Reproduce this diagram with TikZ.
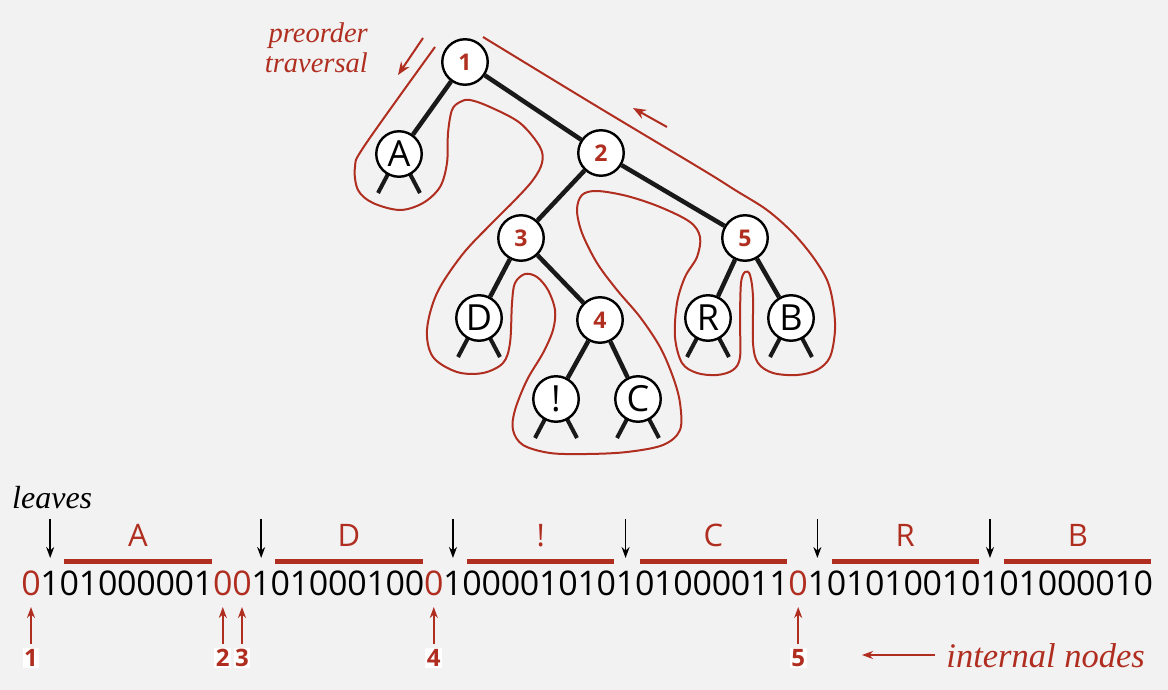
\documentclass[tikz,border=0pt]{standalone}
\usepackage{fontspec}
\setmainfont{Liberation Serif}
\newfontfamily\sansf{Open Sans}
\usetikzlibrary{arrows.meta}
\definecolor{bookred}{RGB}{176,46,32}
\definecolor{bggray}{RGB}{242,242,242}
\pgfdeclarelayer{bgfill}
\pgfdeclarelayer{bgedge}
\pgfsetlayers{bgfill,bgedge,main}
\tikzset{
  tnode/.style={circle, draw=black, line width=2.4pt, fill=white, minimum size=45.5pt, inner sep=0pt},
  leaflbl/.style={font=\sansf\fontsize{36}{36}\selectfont},
  intlbl/.style={text=bookred, font=\sansf\bfseries\fontsize{23}{23}\selectfont},
  treeedge/.style={line width=4.5pt, draw=black!90},
  stub/.style={line width=4pt, draw=black!90},
  trav/.style={draw=bookred, line width=2pt},
  travarrow/.style={draw=bookred, line width=2pt, -{Stealth[length=13pt,width=10pt]}},
  bit/.style={font=\sansf\fontsize{34}{34}\selectfont, anchor=base, inner sep=0pt},
  barlbl/.style={text=bookred, font=\sansf\fontsize{31}{31}\selectfont, anchor=base, inner sep=0pt},
  bitbar/.style={draw=bookred, line width=4.5pt},
  darr/.style={draw=black, line width=1.7pt, -{Stealth[length=11pt,width=8pt]}},
  uarr/.style={draw=bookred, line width=2pt, -{Stealth[length=11pt,width=8pt]}},
  numlbl/.style={text=bookred, fill=white, font=\sansf\bfseries\fontsize{24}{24}\selectfont, inner sep=1.5pt},
  itext/.style={font=\fontsize{28.5}{30}\selectfont\itshape, inner sep=0pt},
}
\begin{document}
\begin{tikzpicture}[x=1pt,y=-1pt]
\begin{pgfonlayer}{bgfill}
\fill[bggray] (0,0) rectangle (1168,690);
\end{pgfonlayer}
\useasboundingbox (0,0) rectangle (1168,690);

% ---------- tree ----------
\node[tnode, intlbl] (n1) at (465,62) {1};
\node[tnode, leaflbl] (A) at (399,154) {A};
\node[tnode, intlbl] (n2) at (601,153) {2};
\node[tnode, intlbl] (n3) at (521,238) {3};
\node[tnode, intlbl] (n5) at (745,238) {5};
\node[tnode, leaflbl] (D) at (479,318) {D};
\node[tnode, intlbl] (n4) at (600,320) {4};
\node[tnode, leaflbl] (R) at (708,318) {R};
\node[tnode, leaflbl] (B) at (791,318) {B};
\node[tnode, leaflbl] (EX) at (556,399) {!};
\node[tnode, leaflbl] (C) at (638,399) {C};

\begin{pgfonlayer}{bgedge}
\draw[treeedge] (n1) -- (A);
\draw[treeedge] (n1) -- (n2);
\draw[treeedge] (n2) -- (n3);
\draw[treeedge] (n2) -- (n5);
\draw[treeedge] (n3) -- (D);
\draw[treeedge] (n3) -- (n4);
\draw[treeedge] (n4) -- (EX);
\draw[treeedge] (n4) -- (C);
\draw[treeedge] (n5) -- (R);
\draw[treeedge] (n5) -- (B);
\foreach \L in {A,D,EX,C,R,B}{
  \draw[stub] ([shift={(-11,20)}]\L.center) -- ([shift={(-21,39)}]\L.center);
  \draw[stub] ([shift={(11,20)}]\L.center) -- ([shift={(21,39)}]\L.center);
}
\end{pgfonlayer}

% ---------- traversal curve ----------
\draw[trav] plot[smooth, tension=0.55] coordinates {
 (435,47) (365,145) (355,167) (358,190) (373,203) (400,210) (423,203) (440,187)
 (447,163) (448,133) (452,110) (460,102) (470,100) (490,107) (520,123) (540,147)
 (542,163) (533,180) (515,200) (490,225) (462,255) (437,293) (427,330) (433,357)
 (457,372) (483,373) (503,363) (510,343) (512,303) (515,283) (525,274) (537,277)
 (548,290) (555,310) (553,330) (543,353) (527,380) (515,410) (513,430) (523,445)
 (550,453) (587,454) (627,452) (663,445) (680,430) (680,403) (673,377) (660,347)
 (640,317) (617,290) (597,263) (582,233) (577,210) (582,195) (597,191) (627,196)
 (660,207) (690,222) (700,237) (697,257) (685,277) (677,303) (675,337) (682,363)
 (697,373) (717,375) (733,370) (740,357) (740,320) (741,283) (745,272) (750,275)
 (753,297) (753,343) (758,363) (773,373) (797,375) (817,370) (830,357) (835,330)
 (833,303) (827,280) (813,257) (793,233) (767,210) (735,190) (703,170) (593,104) (483,37)
};
\coordinate (t1s) at (423,38);
\coordinate (t1e) at (398,75);
\coordinate (t2s) at (667,127);
\coordinate (t2e) at (633,108);
\draw[travarrow] (t1s) -- (t1e);
\draw[travarrow] (t2s) -- (t2e);
\node[itext, text=bookred, anchor=base east] (pre1) at (368,43) {preorder};
\node[itext, text=bookred, anchor=base east] (pre2) at (368,73) {traversal};

% ---------- bit string ----------
\def\ox{31}
\def\px{19.18}
\foreach \d [count=\i from 0] in {0, 1,0,1,0,0,0,0,0,1, 0,0, 1,0,1,0,0,0,1,0,0, 0,
  1,0,0,0,0,1,0,1,0, 1,0,1,0,0,0,0,1,1, 0, 1,0,1,0,1,0,0,1,0, 1,0,1,0,0,0,0,1,0}{
  \def\bc{black}
  \ifnum\i=0 \def\bc{bookred}\fi
  \ifnum\i=10 \def\bc{bookred}\fi
  \ifnum\i=11 \def\bc{bookred}\fi
  \ifnum\i=21 \def\bc{bookred}\fi
  \ifnum\i=40 \def\bc{bookred}\fi
  \node[bit, text=\bc] (b\i) at (\ox+\px*\i, 595) {\d};
}
\foreach \s/\l in {2/A, 13/D, 23/!, 32/C, 42/R, 51/B}{
  \pgfmathsetmacro\xa{\ox+\px*\s-5}
  \pgfmathsetmacro\xb{\ox+\px*(\s+7)+8}
  \pgfmathsetmacro\xm{(\xa+\xb)/2}
  \draw[bitbar] (\xa,561.5) -- (\xb,561.5);
  \node[barlbl] (lbl\s) at (\xm,546) {\l};
}
\foreach \k in {1,12,22,31,41,50}{
  \draw[darr] ([yshift=76pt]b\k.base) -- ([yshift=37pt]b\k.base);
}
\node[itext, font=\fontsize{32}{32}\selectfont\itshape, anchor=base west] (lv) at (12,508) {leaves};

% internal node markers
\foreach \k/\n in {0/1, 10/2, 11/3, 21/4, 40/5}{
  \draw[uarr] ([yshift=-49pt]b\k.base) -- ([yshift=-12pt]b\k.base);
  \node[numlbl] (m\n) at ([yshift=-63pt]b\k.base) {\n};
}
\node[itext, text=bookred, font=\fontsize{34.5}{34.5}\selectfont\itshape, anchor=base east] (intl) at (1145,667) {internal nodes};
\coordinate (ia) at (935,655);
\coordinate (ib) at (862,655);
\draw[uarr] (ia) -- (ib);
\end{tikzpicture}
\end{document}
